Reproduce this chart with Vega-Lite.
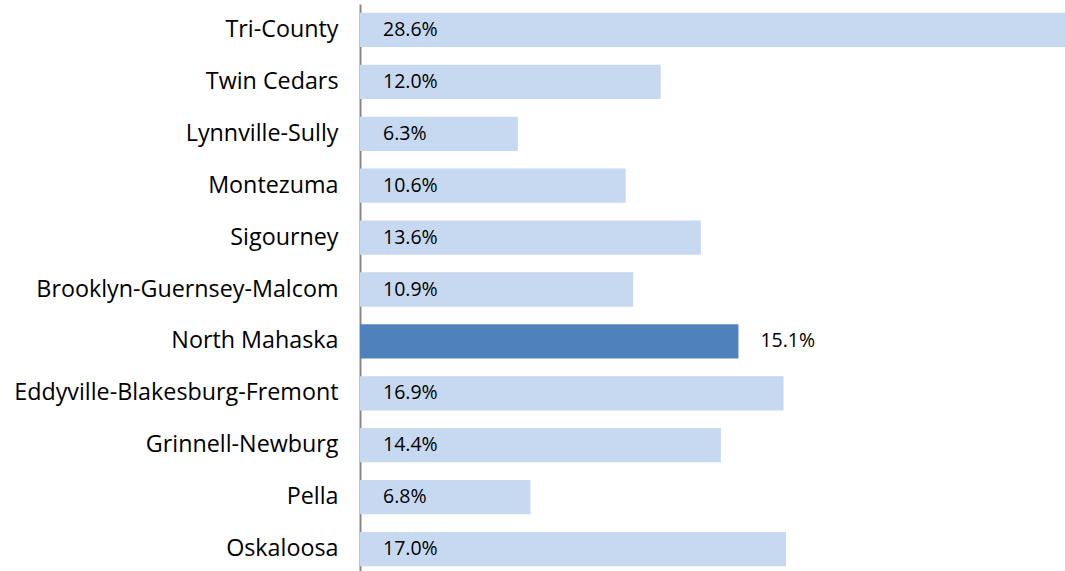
{
  "$schema": "https://vega.github.io/schema/vega-lite/v6.json",
  "width": 705,
  "height": 571,
  "autosize": {"type": "none"},
  "padding": {"left": 360, "top": 4, "right": 0, "bottom": 0},
  "config": {"view": {"stroke": null}, "font": "Open Sans"},
  "data": {"values": [
    {"School": "Tri-County", "Rate": 0.286},
    {"School": "Twin Cedars", "Rate": 0.120},
    {"School": "Lynnville-Sully", "Rate": 0.063},
    {"School": "Montezuma", "Rate": 0.106},
    {"School": "Sigourney", "Rate": 0.136},
    {"School": "Brooklyn-Guernsey-Malcom", "Rate": 0.109},
    {"School": "North Mahaska", "Rate": 0.151},
    {"School": "Eddyville-Blakesburg-Fremont", "Rate": 0.169},
    {"School": "Grinnell-Newburg", "Rate": 0.144},
    {"School": "Pella", "Rate": 0.068},
    {"School": "Oskaloosa", "Rate": 0.170}
  ]},
  "encoding": {
    "y": {"field": "School", "type": "nominal", "sort": null,
      "scale": {"paddingInner": 0.34, "paddingOuter": 0.17},
      "axis": {"title": null, "ticks": false, "labelFontSize": 23.3, "labelColor": "#000000", "labelPadding": 22, "labelLimit": 400, "domainColor": "#868686", "domainWidth": 2, "labelFont": "Open Sans"}}
  },
  "layer": [
    {"mark": {"type": "bar", "clip": true},
      "encoding": {
        "x": {"field": "Rate", "type": "quantitative", "scale": {"domain": [0, 0.2813], "nice": false}, "axis": null},
        "color": {"condition": {"test": "datum.School === 'North Mahaska'", "value": "#4F81BD"}, "value": "#C6D9F1"}
      }},
    {"transform": [{"filter": "datum.School !== 'North Mahaska'"}],
      "mark": {"type": "text", "align": "left", "dx": 23, "fontSize": 19.5, "color": "#000000"},
      "encoding": {
        "x": {"datum": 0, "type": "quantitative"},
        "text": {"field": "Rate", "type": "quantitative", "format": ".1%"}
      }},
    {"transform": [{"filter": "datum.School === 'North Mahaska'"}],
      "mark": {"type": "text", "align": "left", "dx": 22, "fontSize": 19.5, "color": "#000000"},
      "encoding": {
        "x": {"field": "Rate", "type": "quantitative"},
        "text": {"field": "Rate", "type": "quantitative", "format": ".1%"}
      }}
  ]
}
